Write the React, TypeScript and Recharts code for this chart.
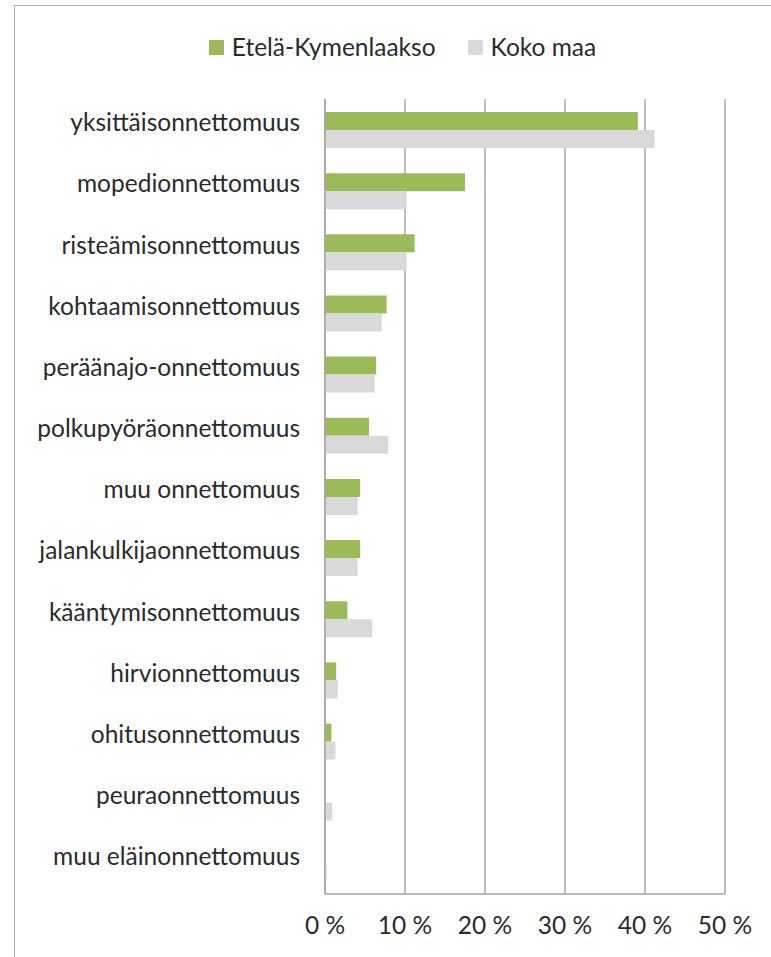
import React from 'react';
import { BarChart, Bar, XAxis, YAxis, CartesianGrid, Legend } from 'recharts';

const categories = [
  'yksittäisonnettomuus',
  'mopedionnettomuus',
  'risteämisonnettomuus',
  'kohtaamisonnettomuus',
  'peräänajo-onnettomuus',
  'polkupyöräonnettomuus',
  'muu onnettomuus',
  'jalankulkijaonnettomuus',
  'kääntymisonnettomuus',
  'hirvionnettomuus',
  'ohitusonnettomuus',
  'peuraonnettomuus',
  'muu eläinonnettomuus',
];

const etelaKymenlaakso = [39.1, 17.5, 11.2, 7.7, 6.4, 5.5, 4.4, 4.4, 2.8, 1.4, 0.8, 0, 0];
const kokoMaa = [41.2, 10.2, 10.2, 7.1, 6.2, 7.9, 4.1, 4.1, 5.9, 1.6, 1.3, 0.9, 0.2];

const xTicks = [0, 10, 20, 30, 40, 50];

const GREEN = '#9bbb59';
const GREY = '#d9d9d9';
const TEXT = '#2b2b2b';
const FONT = 'Lato, "Open Sans", sans-serif';
const FS = 24.5;

const chartData = categories.map((name, i) => ({
  name,
  ek: etelaKymenlaakso[i],
  koko: kokoMaa[i],
}));

const CategoryTick = (props: any) => {
  const { x, y, payload } = props;
  return (
    <text x={x} y={y - 7} dy="0.355em" textAnchor="end" fill={TEXT} fontSize={FS} fontFamily={FONT}>
      {payload.value}
    </text>
  );
};

const LegendContent = (props: any) => {
  const items = props.payload || [];
  return (
    <div style={{ display: 'flex', justifyContent: 'center', gap: 32, paddingLeft: 34, fontFamily: FONT, fontSize: FS, color: TEXT, lineHeight: '30px' }}>
      {items.map((it: any) => (
        <div key={it.value} style={{ display: 'flex', alignItems: 'center', gap: 8 }}>
          <span style={{ width: 15, height: 15, background: it.color, display: 'inline-block' }} />
          <span>{it.value}</span>
        </div>
      ))}
    </div>
  );
};

export default function App() {
  return (
    <div style={{ position: 'absolute', left: 0, top: 0, width: 771, height: 957, background: '#fff', overflow: 'hidden' }}>
      <div style={{ position: 'absolute', left: 14, top: 5, width: 800, height: 1000, border: '1px solid #b0b0b0' }} />
      <BarChart
        width={771}
        height={957}
        data={chartData}
        layout="vertical"
        margin={{ top: 99, right: 46, left: 0, bottom: 23 }}
        barCategoryGap={13}
        barGap={0}
      >
        <CartesianGrid horizontal={false} vertical stroke="#a6a6a6" strokeWidth={1.5} />
        <XAxis
          type="number"
          domain={[0, 50]}
          ticks={xTicks}
          tickFormatter={(v: number) => `${v} %`}
          axisLine={{ stroke: '#a6a6a6', strokeWidth: 1.5 }}
          tickLine={false}
          tickSize={0}
          tickMargin={23}
          height={40}
          tick={{ fill: TEXT, fontSize: FS, fontFamily: FONT }}
          interval={0}
        />
        <YAxis
          type="category"
          dataKey="name"
          width={325}
          axisLine={{ stroke: '#a6a6a6', strokeWidth: 1.5 }}
          tickLine={false}
          tickSize={0}
          tickMargin={25}
          tick={<CategoryTick />}
          interval={0}
        />
        <Legend
          layout="horizontal"
          verticalAlign="middle"
          align="center"
          wrapperStyle={{ top: 32, left: 0, width: 771 }}
          content={<LegendContent />}
        />
        <Bar dataKey="ek" name="Etelä-Kymenlaakso" fill={GREEN} isAnimationActive={false} />
        <Bar dataKey="koko" name="Koko maa" fill={GREY} isAnimationActive={false} />
      </BarChart>
    </div>
  );
}
